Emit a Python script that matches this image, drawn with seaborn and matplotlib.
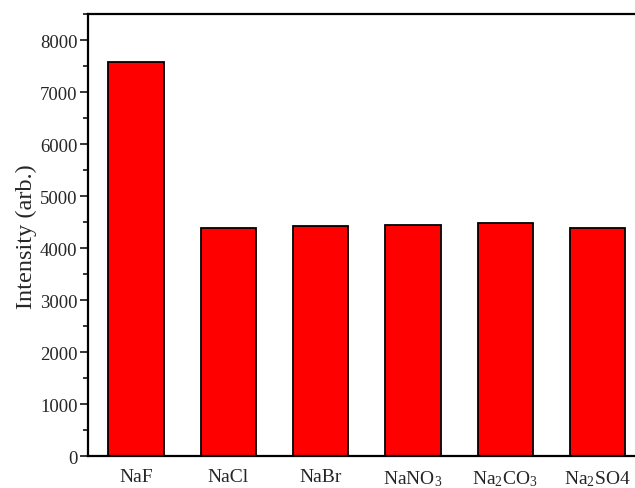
import pandas as pd
import seaborn as sns
import matplotlib.pyplot as plt
import matplotlib.ticker as mticker

SALTS = ["NaF", "NaCl", "NaBr", "NaNO$_3$", "Na$_2$CO$_3$", "Na$_2$SO4"]
INTENSITY = [7580, 4400, 4430, 4455, 4480, 4393]


def main():
    sns.set_style("ticks")
    plt.rcParams["font.family"] = ["Liberation Serif", "DejaVu Serif"]
    plt.rcParams["mathtext.default"] = "regular"

    df = pd.DataFrame({"salt": SALTS, "intensity": INTENSITY})

    fig = plt.figure(figsize=(6.35, 4.89), dpi=100)
    ax = fig.add_axes([88 / 635, 31.7 / 489, (645.5 - 88) / 635, (457.3 - 15.3) / 489])
    sns.barplot(data=df, x="salt", y="intensity", color="#ff0000", saturation=1,
                width=0.6, edgecolor="black", linewidth=1.3, ax=ax)

    ax.set_xlim(-0.52, 5.52)
    ax.set_ylim(0, 8500)
    ax.yaxis.set_major_locator(mticker.MultipleLocator(1000))
    ax.yaxis.set_minor_locator(mticker.MultipleLocator(500))
    ax.tick_params(axis="y", which="major", direction="out", length=5.5, width=1.3, labelsize=13.5, pad=2)
    ax.tick_params(axis="y", which="minor", direction="out", length=3.5, width=1.3)
    ax.tick_params(axis="x", length=0, labelsize=14, pad=8.5)
    for side in ["left", "bottom", "top", "right"]:
        ax.spines[side].set_linewidth(1.6)
        ax.spines[side].set_color("black")
    ax.set_xlabel("")
    ax.set_ylabel("Intensity (arb.)", fontsize=17.5, labelpad=2)

    fig.savefig("out.png", dpi=100)


if __name__ == "__main__":
    main()
